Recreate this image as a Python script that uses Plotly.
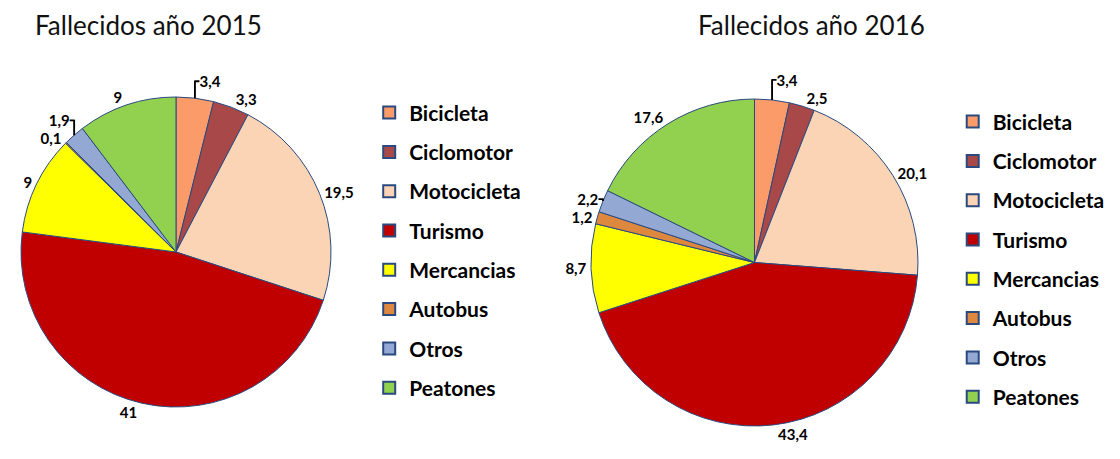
import plotly.graph_objects as go

categorias = ['Bicicleta', 'Ciclomotor', 'Motocicleta', 'Turismo',
              'Mercancias', 'Autobus', 'Otros', 'Peatones']
valores_2015 = [3.4, 3.3, 19.5, 41, 9, 0.1, 1.9, 9]
valores_2016 = [3.4, 2.5, 20.1, 43.4, 8.7, 1.2, 2.2, 17.6]
colores = ['#FA9B69', '#A84848', '#FBD4B6', '#C00000',
           '#FFFF00', '#DE873F', '#93A9D3', '#92D050']
BORDE = '#2A4A7F'
FUENTE = 'Lato'


def etiqueta(v):
    # formato español: coma decimal
    return ('%g' % v).replace('.', ',')


def pie(valores, dominio):
    return go.Pie(
        labels=categorias, values=valores,
        text=[etiqueta(v) for v in valores], textinfo='text',
        textposition='outside', sort=False, direction='clockwise', rotation=0,
        marker=dict(colors=colores, line=dict(color=BORDE, width=1)),
        textfont=dict(family=FUENTE, size=15, color='black', weight='bold'),
        domain=dominio, showlegend=False, hoverinfo='label+value',
    )


fig = go.Figure()
fig.add_trace(pie(valores_2015, dict(x=[0.0116, 0.2884], y=[0.1307, 0.8061])))
fig.add_trace(pie(valores_2016, dict(x=[0.5205, 0.8125], y=[0.0893, 0.8017])))

# entradas de leyenda, una por categoria y por grafico
for leyenda in ['legend', 'legend2']:
    for cat, col in zip(categorias, colores):
        fig.add_trace(go.Scatter(
            x=[None], y=[None], mode='markers', name=cat,
            marker=dict(symbol='square', size=13, color=col, line=dict(color=BORDE, width=1)),
            legend=leyenda, legendgroup=leyenda + cat, showlegend=True,
        ))

ley = dict(font=dict(family=FUENTE, size=21, color='black', weight='bold'),
           tracegroupgap=9, itemsizing='constant', bgcolor='rgba(0,0,0,0)',
           xanchor='left', yanchor='top')

titulo = dict(family=FUENTE, size=26, color='#111111')

fig.update_layout(
    width=1120, height=459,
    margin=dict(l=0, r=0, t=0, b=0),
    paper_bgcolor='white', plot_bgcolor='white',
    xaxis=dict(visible=False), yaxis=dict(visible=False),
    legend=dict(x=0.3225, y=0.816, **ley),
    legend2=dict(x=0.8435, y=0.7964, **ley),
    annotations=[
        dict(text='Fallecidos año 2015', x=0.022, y=0.962, xref='paper', yref='paper',
             xanchor='left', yanchor='middle', showarrow=False, font=titulo),
        dict(text='Fallecidos año 2016', x=0.6139, y=0.962, xref='paper', yref='paper',
             xanchor='left', yanchor='middle', showarrow=False, font=titulo),
    ],
)

fig.write_html('out.html')
